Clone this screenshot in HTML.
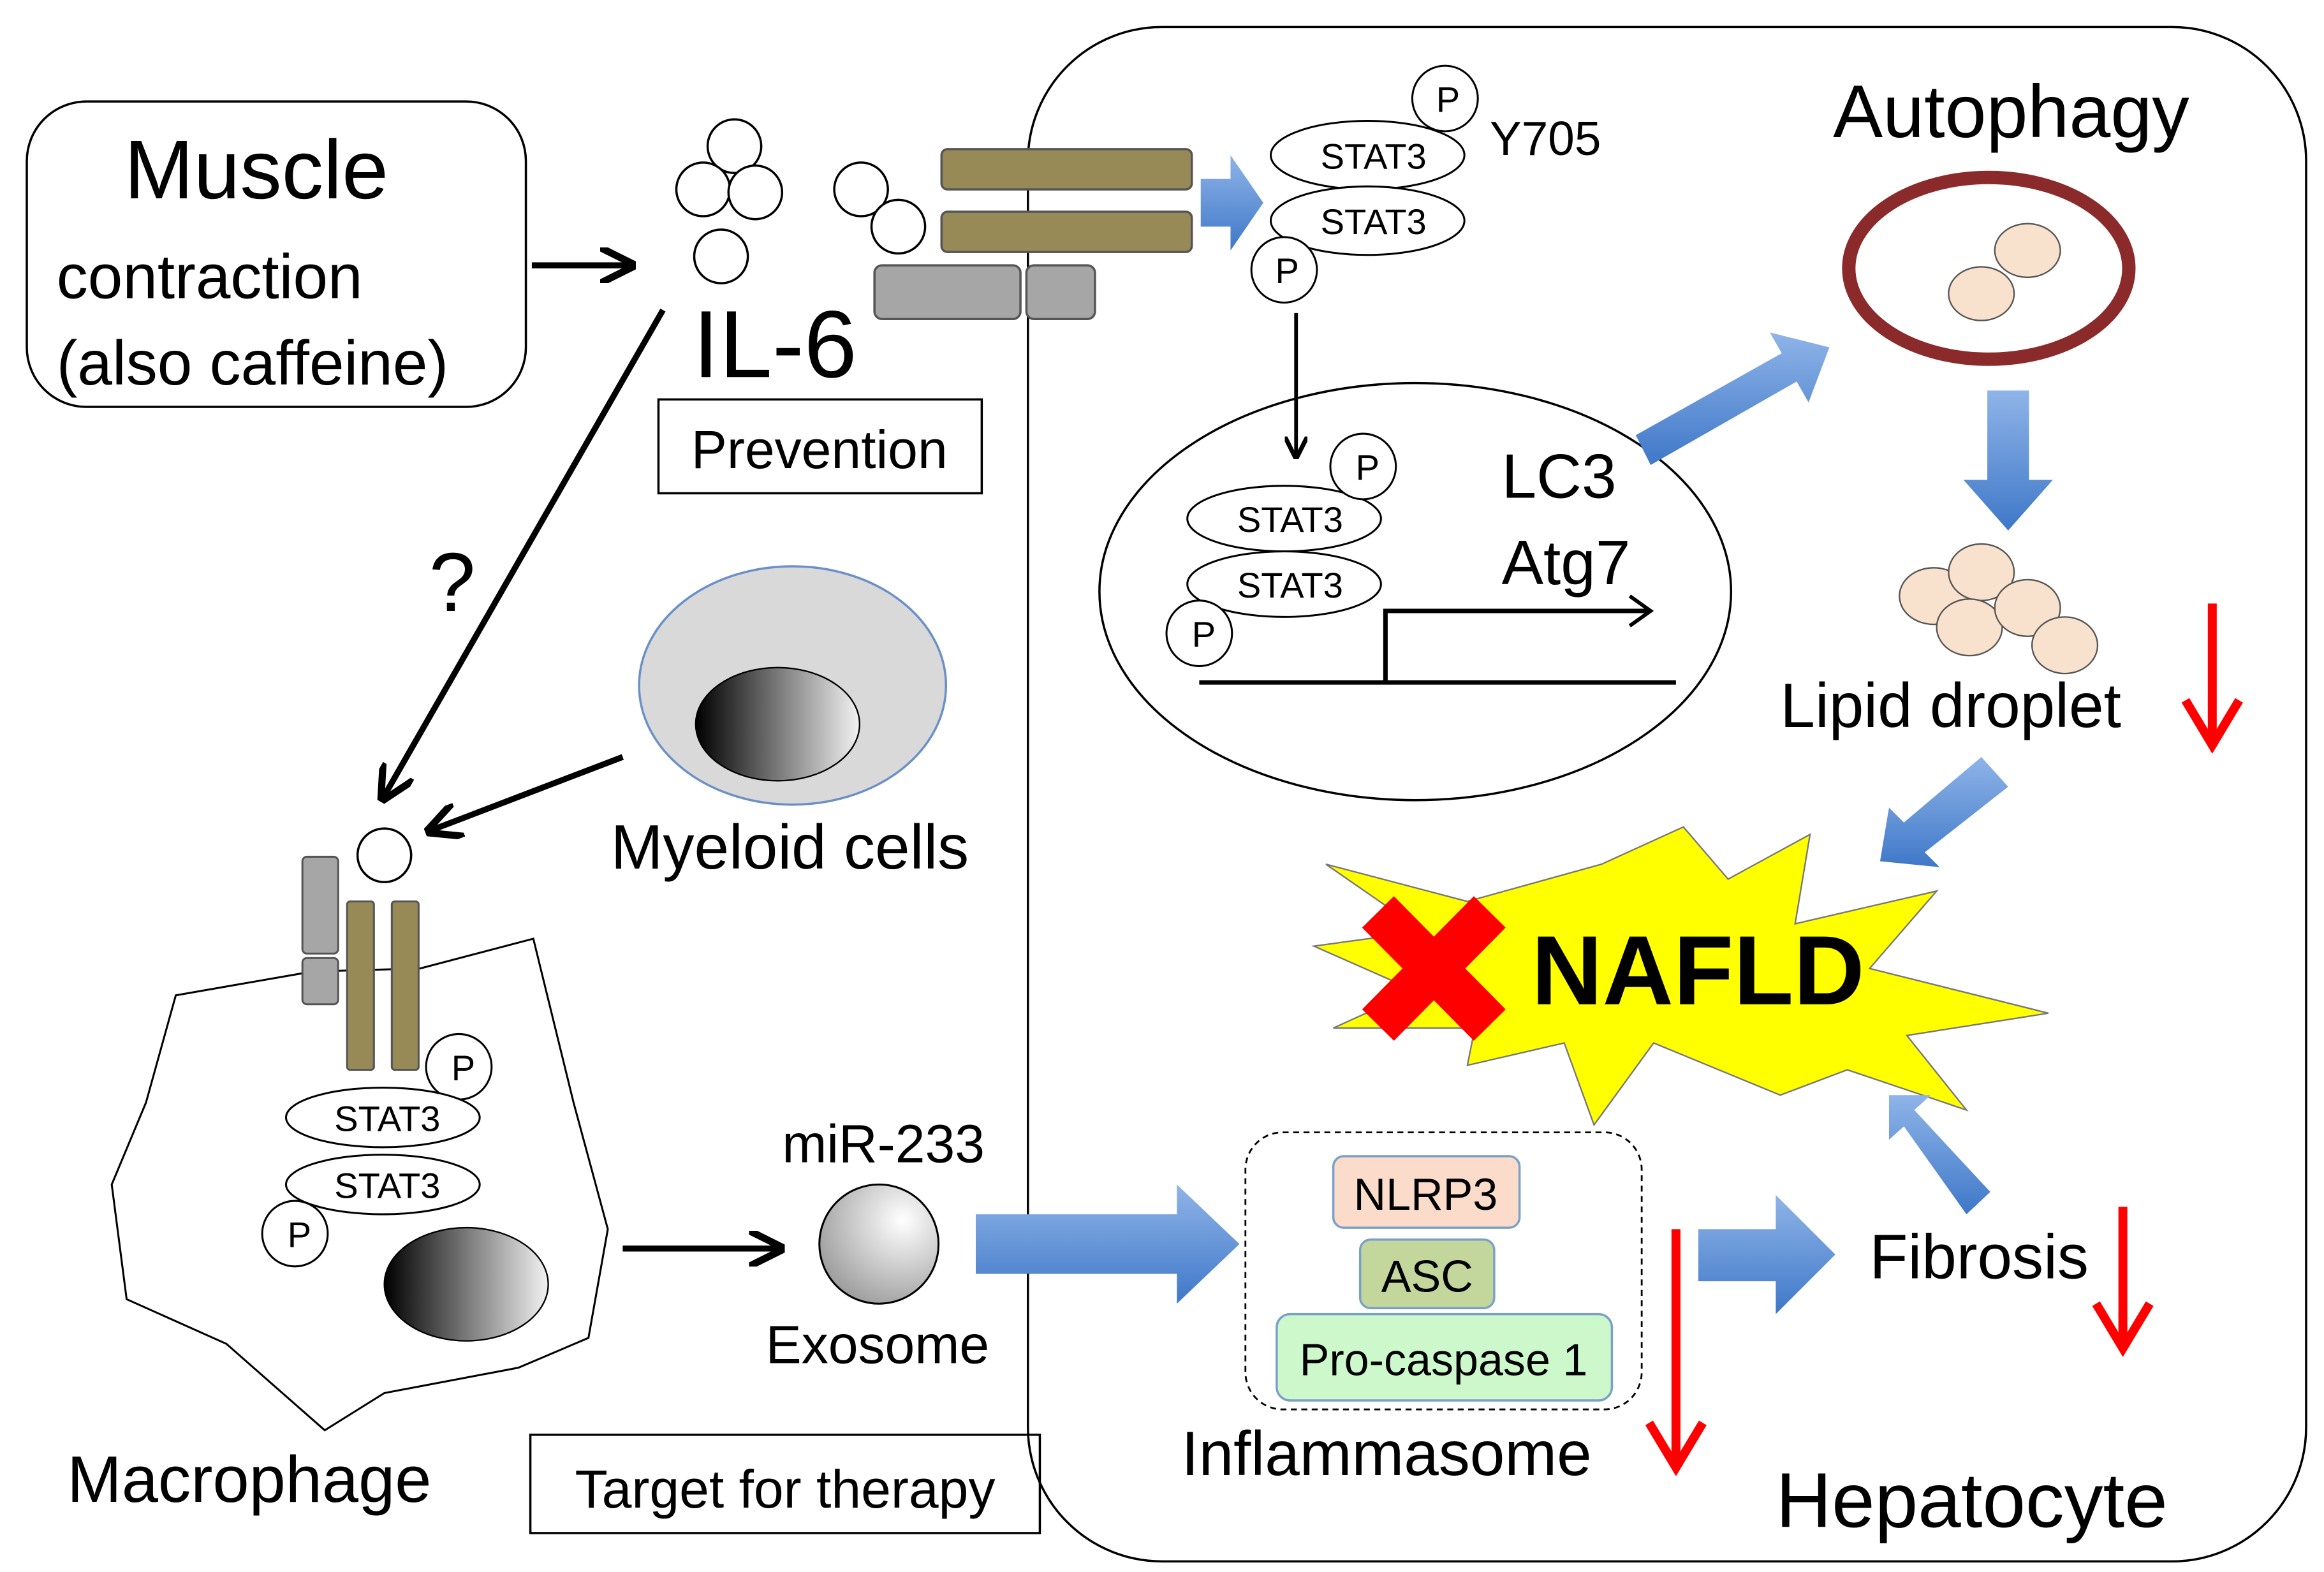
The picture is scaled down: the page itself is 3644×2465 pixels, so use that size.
<!DOCTYPE html>
<html><head><meta charset="utf-8"><style>
html,body{margin:0;padding:0;background:#fff;}
svg{display:block;}
text{font-family:"Liberation Sans",sans-serif;fill:#000;}
</style></head><body>
<svg width="3644" height="2465" viewBox="0 0 1560 1055" xmlns="http://www.w3.org/2000/svg">
<defs>
<linearGradient id="nuc" x1="0" x2="1" y1="0" y2="0"><stop offset="0" stop-color="#000"/><stop offset="1" stop-color="#f2f2f2"/></linearGradient>
<radialGradient id="exo" cx="0.7" cy="0.3" r="0.8"><stop offset="0" stop-color="#fff"/><stop offset="1" stop-color="#9a9a9a"/></radialGradient>
<linearGradient id="blu" x1="0" x2="0" y1="0" y2="1"><stop offset="0" stop-color="#8fb4e8"/><stop offset="1" stop-color="#3f78c8"/></linearGradient>
<marker id="ah" viewBox="0 0 10 10" refX="8" refY="5" markerWidth="6" markerHeight="6" orient="auto"><path d="M0,0 L10,5 L0,10" fill="none" stroke="#000" stroke-width="2"/></marker>
</defs>

<!-- Hepatocyte -->
<rect x="690" y="18" width="858" height="1030" rx="90" fill="none" stroke="#000" stroke-width="1.5"/>

<!-- Muscle box -->
<rect x="18" y="68" width="335" height="205" rx="40" fill="none" stroke="#000" stroke-width="1.5"/>
<text x="172" y="133" font-size="56" text-anchor="middle">Muscle</text>
<text x="38" y="200" font-size="42">contraction</text>
<text x="38" y="258" font-size="42">(also caffeine)</text>
<line x1="357" y1="178" x2="422" y2="178" stroke="#000" stroke-width="4" marker-end="url(#ah)"/>

<!-- IL-6 -->
<g fill="#fff" stroke="#000" stroke-width="1.5">
<circle cx="493" cy="98" r="18"/><circle cx="472" cy="127" r="18"/><circle cx="507" cy="129" r="18"/><circle cx="484" cy="172" r="18"/>
<circle cx="578" cy="127" r="18"/><circle cx="603" cy="152" r="18"/>
</g>
<text x="465" y="253" font-size="64">IL-6</text>
<rect x="442" y="268" width="217" height="63" fill="none" stroke="#000" stroke-width="1.5"/>
<text x="550" y="314" font-size="36" text-anchor="middle">Prevention</text>

<!-- receptor -->
<g stroke="#555" stroke-width="1.5">
<rect x="632" y="100" width="168" height="27" rx="4" fill="#978a57"/>
<rect x="632" y="142" width="168" height="27" rx="4" fill="#978a57"/>
<rect x="587" y="178" width="98" height="36" rx="5" fill="#a6a6a6"/>
<rect x="689" y="178" width="46" height="36" rx="5" fill="#a6a6a6"/>
</g>
<path d="M806,120 L826,120 L826,104 L848,136 L826,168 L826,152 L806,152 Z" fill="url(#blu)"/>

<!-- STAT3 top -->
<g fill="#fff" stroke="#000" stroke-width="1.3">
<ellipse cx="918" cy="104" rx="65" ry="23"/><ellipse cx="918" cy="148" rx="65" ry="23"/>
<circle cx="970" cy="66" r="22"/><circle cx="862" cy="181" r="22"/>
</g>
<g font-size="24" text-anchor="middle">
<text x="922" y="113">STAT3</text><text x="922" y="157">STAT3</text>
<text x="972" y="75">P</text><text x="864" y="190">P</text>
</g>
<text x="1000" y="104" font-size="32">Y705</text>
<line x1="870" y1="210" x2="870" y2="305" stroke="#000" stroke-width="2.5" marker-end="url(#ah)"/>

<!-- nucleus -->
<ellipse cx="950" cy="397" rx="212" ry="140" fill="none" stroke="#000" stroke-width="1.5"/>
<g fill="#fff" stroke="#000" stroke-width="1.3">
<ellipse cx="862" cy="348" rx="65" ry="22"/><ellipse cx="862" cy="392" rx="65" ry="22"/>
<circle cx="915" cy="313" r="22"/><circle cx="805" cy="425" r="22"/>
</g>
<g font-size="24" text-anchor="middle">
<text x="866" y="357">STAT3</text><text x="866" y="401">STAT3</text>
<text x="918" y="322">P</text><text x="808" y="434">P</text>
</g>
<text x="1008" y="334" font-size="42">LC3</text>
<text x="1008" y="392" font-size="42">Atg7</text>
<path d="M805,458 L1125,458 M930,458 L930,410 L1106,410" fill="none" stroke="#000" stroke-width="3"/>
<path d="M1094,400 L1108,410 L1094,420" fill="none" stroke="#000" stroke-width="2.5"/>

<!-- blue arrow to autophagy -->
<path d="M1098,292 L1196,237 L1188,223 L1228,233 L1214,270 L1206,256 L1108,312 Z" fill="url(#blu)"/>

<text x="1350" y="92" font-size="50" text-anchor="middle">Autophagy</text>
<ellipse cx="1335" cy="180" rx="94" ry="61" fill="none" stroke="#8b2a2a" stroke-width="9"/>
<g fill="#f8e1cd" stroke="#555" stroke-width="1">
<ellipse cx="1361" cy="168" rx="22" ry="18"/><ellipse cx="1330" cy="197" rx="22" ry="18"/>
</g>
<path d="M1334,262 L1362,262 L1362,322 L1378,322 L1348,356 L1318,322 L1334,322 Z" fill="url(#blu)"/>
<g fill="#f8e1cd" stroke="#555" stroke-width="1">
<ellipse cx="1298" cy="400" rx="23" ry="19"/><ellipse cx="1330" cy="384" rx="22" ry="19"/>
<ellipse cx="1322" cy="421" rx="22" ry="19"/><ellipse cx="1361" cy="408" rx="22" ry="19"/><ellipse cx="1386" cy="433" rx="22" ry="19"/>
</g>
<text x="1195" y="488" font-size="42">Lipid droplet</text>
<g stroke="#f00" stroke-width="6" fill="none">
<line x1="1485" y1="405" x2="1485" y2="495"/><path d="M1467,470 L1485,500 L1503,470"/>
<line x1="1125" y1="825" x2="1125" y2="980"/><path d="M1107,955 L1125,985 L1143,955"/>
<line x1="1425" y1="810" x2="1425" y2="900"/><path d="M1407,875 L1425,905 L1443,875"/>
</g>
<path d="M1330,508 L1348,528 L1292,572 L1302,582 L1262,578 L1268,542 L1278,552 Z" fill="url(#blu)"/>

<!-- NAFLD -->
<polygon points="890,580 985,605 1075,580 1130,555 1160,590 1215,560 1205,620 1300,598 1255,650 1375,680 1280,695 1320,745 1240,718 1195,735 1110,700 1070,755 1050,700 985,715 990,690 895,690 950,665 882,635 955,625" fill="#ffff00" stroke="#777" stroke-width="1"/>
<g stroke="#f00" stroke-width="30"><line x1="925" y1="612" x2="1000" y2="688"/><line x1="1000" y1="612" x2="925" y2="688"/></g>
<text x="1028" y="674" font-size="66" font-weight="bold">NAFLD</text>
<path d="M1320,815 L1336,800 L1285,745 L1296,735 L1268,735 L1268,765 L1278,756 Z" fill="url(#blu)"/>

<!-- inflammasome -->
<rect x="836" y="760" width="266" height="186" rx="25" fill="none" stroke="#000" stroke-width="1.2" stroke-dasharray="4,3"/>
<rect x="895" y="776" width="125" height="48" rx="7" fill="#fbdccb" stroke="#7aa0c8" stroke-width="1.5"/>
<rect x="913" y="832" width="90" height="46" rx="7" fill="#c3d69b" stroke="#7aa0c8" stroke-width="1.5"/>
<rect x="857" y="882" width="225" height="58" rx="9" fill="#ccf8cc" stroke="#7aa0c8" stroke-width="1.5"/>
<text x="957" y="812" font-size="30" text-anchor="middle">NLRP3</text>
<text x="958" y="867" font-size="30" text-anchor="middle">ASC</text>
<text x="969" y="923" font-size="30" text-anchor="middle">Pro-caspase 1</text>
<text x="793" y="990" font-size="42">Inflammasome</text>
<path d="M1140,825 L1192,825 L1192,802 L1232,842 L1192,882 L1192,860 L1140,860 Z" fill="url(#blu)"/>
<text x="1255" y="858" font-size="42">Fibrosis</text>
<text x="1192" y="1025" font-size="52">Hepatocyte</text>

<!-- exosome -->
<text x="525" y="780" font-size="36">miR-233</text>
<circle cx="590" cy="835" r="40" fill="url(#exo)" stroke="#000" stroke-width="1.3"/>
<text x="514" y="915" font-size="36">Exosome</text>
<line x1="418" y1="838" x2="522" y2="838" stroke="#000" stroke-width="4" marker-end="url(#ah)"/>
<path d="M655,815 L790,815 L790,795 L832,835 L790,875 L790,855 L655,855 Z" fill="url(#blu)"/>
<rect x="356" y="963" width="342" height="66" fill="none" stroke="#000" stroke-width="1.5"/>
<text x="527" y="1012" font-size="36" text-anchor="middle">Target for therapy</text>

<!-- myeloid -->
<ellipse cx="532" cy="460" rx="103" ry="80" fill="#d9d9d9" stroke="#6a8fc9" stroke-width="1.5"/>
<ellipse cx="522" cy="486" rx="55" ry="38" fill="url(#nuc)" stroke="#000" stroke-width="1"/>
<text x="410" y="583" font-size="42">Myeloid cells</text>
<line x1="418" y1="508" x2="290" y2="557" stroke="#000" stroke-width="4" marker-end="url(#ah)"/>
<line x1="445" y1="208" x2="258" y2="534" stroke="#000" stroke-width="4" marker-end="url(#ah)"/>
<text x="288" y="410" font-size="56">?</text>

<!-- macrophage -->
<path d="M118,668 L210,652 L282,650 L358,630 L385,740 L408,825 L395,898 L348,918 L258,935 L218,960 L152,902 L85,872 L75,795 L98,740 Z" fill="#fff" stroke="#000" stroke-width="1.3"/>
<circle cx="258" cy="574" r="18" fill="#fff" stroke="#000" stroke-width="1.5"/>
<g stroke="#555" stroke-width="1.3">
<rect x="203" y="575" width="24" height="65" rx="3" fill="#a6a6a6"/>
<rect x="203" y="643" width="24" height="31" rx="3" fill="#a6a6a6"/>
<rect x="233" y="605" width="18" height="113" rx="2" fill="#978a57"/>
<rect x="263" y="605" width="18" height="113" rx="2" fill="#978a57"/>
</g>
<g fill="#fff" stroke="#000" stroke-width="1.3">
<circle cx="308" cy="716" r="22"/>
<ellipse cx="257" cy="750" rx="65" ry="20"/><ellipse cx="257" cy="795" rx="65" ry="20"/>
<circle cx="198" cy="828" r="22"/>
</g>
<g font-size="24" text-anchor="middle">
<text x="311" y="725">P</text><text x="260" y="759">STAT3</text><text x="260" y="804">STAT3</text><text x="201" y="837">P</text>
</g>
<ellipse cx="313" cy="862" rx="55" ry="38" fill="url(#nuc)" stroke="#000" stroke-width="1"/>
<text x="45" y="1008" font-size="44">Macrophage</text>
</svg>
</body></html>
